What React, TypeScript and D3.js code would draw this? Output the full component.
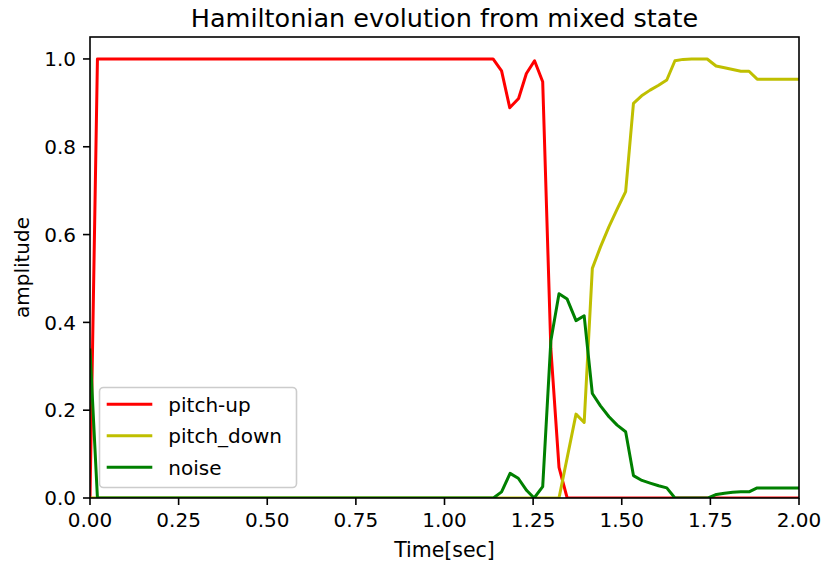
import React from "react";
import * as d3 from "d3";

const W = 824;
const H = 565;

const title = "Hamiltonian evolution from mixed state";
const xLabel = "Time[sec]";
const yLabel = "amplitude";
const xTicks = [0, 0.25, 0.5, 0.75, 1.0, 1.25, 1.5, 1.75, 2.0];
const yTicks = [0, 0.2, 0.4, 0.6, 0.8, 1.0];

// pitch-up series: [time, amplitude]
const pitchUp: [number, number][] = [
  [0, 0], [0.021, 1.0], [1.137, 1.0], [1.161, 0.973], [1.184, 0.889], [1.209, 0.91],
  [1.231, 0.967], [1.254, 0.996], [1.277, 0.948], [1.3, 0.34], [1.323, 0.07],
  [1.346, 0], [2.0, 0],
];

// pitch_down series
const pitchDown: [number, number][] = [
  [0, 0], [1.323, 0], [1.371, 0.191], [1.394, 0.172], [1.417, 0.523], [1.44, 0.572],
  [1.464, 0.618], [1.487, 0.658], [1.511, 0.698], [1.533, 0.899], [1.556, 0.916],
  [1.58, 0.929], [1.604, 0.94], [1.627, 0.952], [1.65, 0.996], [1.673, 0.999],
  [1.697, 1.0], [1.741, 1.0], [1.766, 0.984], [1.79, 0.98], [1.813, 0.976],
  [1.836, 0.972], [1.859, 0.972], [1.882, 0.954], [2.0, 0.954],
];

// noise series
const noise: [number, number][] = [
  [0, 0.337], [0.021, 0], [1.138, 0], [1.161, 0.014], [1.185, 0.056], [1.208, 0.045],
  [1.232, 0.017], [1.253, 0], [1.277, 0.026], [1.3, 0.358], [1.323, 0.465],
  [1.346, 0.453], [1.371, 0.404], [1.394, 0.415], [1.417, 0.238], [1.44, 0.21],
  [1.464, 0.185], [1.487, 0.166], [1.511, 0.151], [1.533, 0.051], [1.557, 0.04],
  [1.58, 0.034], [1.604, 0.028], [1.627, 0.023], [1.65, 0], [1.744, 0], [1.767, 0.008],
  [1.79, 0.011], [1.813, 0.013], [1.836, 0.014], [1.859, 0.014], [1.882, 0.023],
  [2.0, 0.023],
];

const seriesNames = ["pitch-up", "pitch_down", "noise"];
const seriesColors = ["#ff0000", "#bfbf00", "#008000"];
const seriesData = [pitchUp, pitchDown, noise];

const FONT = "DejaVu Sans, sans-serif";

export default function App() {
  const left = 90, right = 799, top = 37, bottom = 498;
  const x = d3.scaleLinear().domain([0, 2]).range([left, right]);
  const y = d3.scaleLinear().domain([0, 1.05]).range([bottom, top]);
  const line = d3
    .line<[number, number]>()
    .x((d) => x(d[0]))
    .y((d) => y(d[1]));

  const legX = 99.5, legY = 387.5, legW = 197, legH = 100;
  const rowY = [404.3, 435.7, 467.3];

  return (
    <div style={{ position: "absolute", left: 0, top: 0 }}>
      <svg width={W} height={H} style={{ display: "block", background: "#fff" }}>
        <defs>
          <clipPath id="plotclip">
            <rect x={left} y={top} width={right - left} height={bottom - top} />
          </clipPath>
        </defs>
        <rect x={0} y={0} width={W} height={H} fill="#fff" />
        <g clipPath="url(#plotclip)">
          {seriesData.map((s, i) => (
            <path
              key={i}
              d={line(s) || ""}
              fill="none"
              stroke={seriesColors[i]}
              strokeWidth={3}
              strokeLinejoin="round"
              strokeLinecap="square"
            />
          ))}
        </g>
        {/* spines */}
        <rect
          x={left}
          y={top}
          width={right - left}
          height={bottom - top}
          fill="none"
          stroke="#000"
          strokeWidth={1.6}
        />
        {/* x ticks */}
        {xTicks.map((t) => (
          <g key={"x" + t}>
            <line x1={x(t)} x2={x(t)} y1={bottom} y2={bottom + 7} stroke="#000" strokeWidth={1.6} />
            <text
              x={x(t)}
              y={bottom + 29}
              textAnchor="middle"
              fontFamily={FONT}
              fontSize={20}
              fill="#000"
            >
              {t.toFixed(2)}
            </text>
          </g>
        ))}
        {/* y ticks */}
        {yTicks.map((t) => (
          <g key={"y" + t}>
            <line x1={left - 7} x2={left} y1={y(t)} y2={y(t)} stroke="#000" strokeWidth={1.6} />
            <text
              x={left - 14}
              y={y(t)}
              dy="0.36em"
              textAnchor="end"
              fontFamily={FONT}
              fontSize={20}
              fill="#000"
            >
              {t.toFixed(1)}
            </text>
          </g>
        ))}
        <text
          x={(left + right) / 2}
          y={557}
          textAnchor="middle"
          fontFamily={FONT}
          fontSize={20.5}
          fill="#000"
        >
          {xLabel}
        </text>
        <text
          transform={`translate(29, ${(top + bottom) / 2}) rotate(-90)`}
          textAnchor="middle"
          fontFamily={FONT}
          fontSize={20}
          fill="#000"
        >
          {yLabel}
        </text>
        <text
          x={(left + right) / 2}
          y={27}
          textAnchor="middle"
          fontFamily={FONT}
          fontSize={25.5}
          fill="#000"
        >
          {title}
        </text>
        {/* legend */}
        <rect
          x={legX}
          y={legY}
          width={legW}
          height={legH}
          rx={4}
          ry={4}
          fill="#fff"
          fillOpacity={0.8}
          stroke="#cccccc"
          strokeWidth={1.6}
        />
        {seriesNames.map((n, i) => (
          <g key={n}>
            <line
              x1={106.7}
              x2={152.3}
              y1={rowY[i]}
              y2={rowY[i]}
              stroke={seriesColors[i]}
              strokeWidth={3}
            />
            <text
              x={168.3}
              y={rowY[i]}
              dy="0.36em"
              fontFamily={FONT}
              fontSize={20}
              fill="#000"
            >
              {n}
            </text>
          </g>
        ))}
      </svg>
    </div>
  );
}
